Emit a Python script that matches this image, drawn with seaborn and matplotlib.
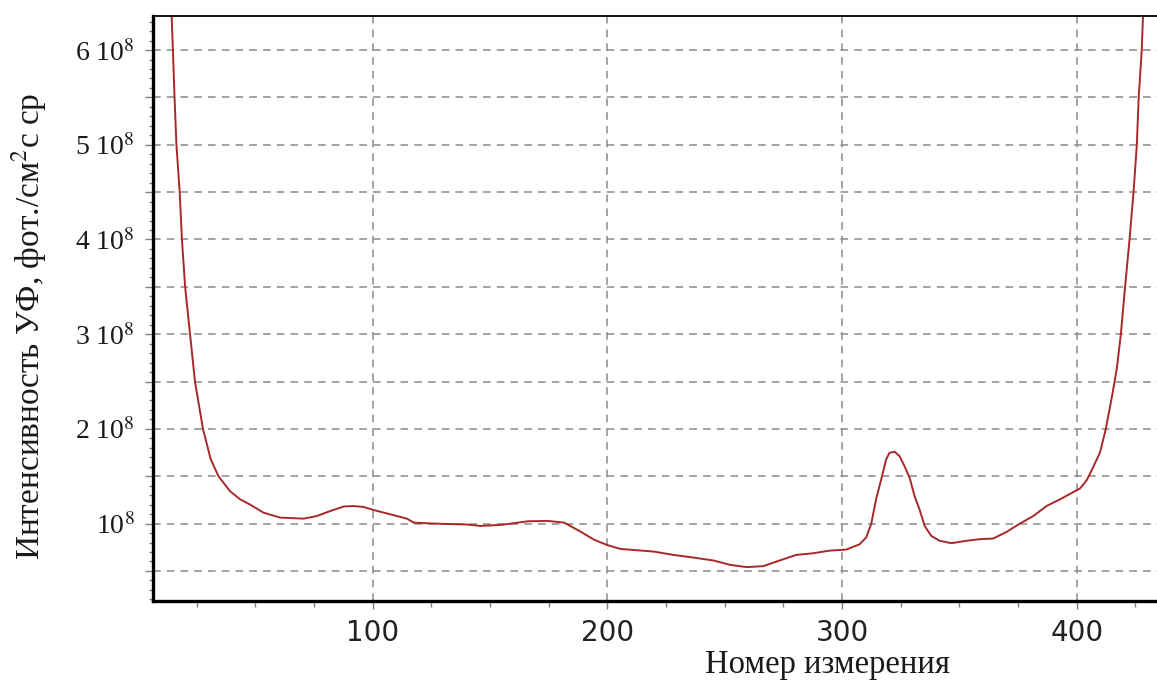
import numpy as np
import pandas as pd
import seaborn as sns
import matplotlib
matplotlib.use("Agg")
import matplotlib.pyplot as plt
from matplotlib.ticker import MultipleLocator, FuncFormatter

meas_no = [14, 14.9, 15.6, 16.4, 17.8, 18.75, 20.1, 22.2, 24.3, 27.7, 31, 34.3, 39.3, 43.6,
           47.8, 53.5, 60.6, 70.6, 76.3, 82, 87.6, 91.9, 96.2, 100.4, 107.5, 114.6, 117.5,
           126, 140, 146, 154.8, 166.1, 174.6, 181.6, 188.7, 194.4, 200, 205.6, 211.3, 219.8,
           228.2, 236.7, 245.2, 252.3, 259.3, 266.4, 273.4, 280.5, 287.6, 294.6, 301.7, 307.4,
           310.3, 312.4, 314.5, 316.7, 318.8, 320.2, 322.4, 324.5, 326.6, 328.8, 330.9, 333,
           335.2, 338, 341.6, 346.6, 353, 358.7, 364.4, 370.1, 375.8, 381.5, 387.2, 392.9,
           398.6, 401.4, 404.3, 407.1, 409.9, 412.3, 414.9, 417.1, 418.8, 420.6, 422.5, 424.2,
           425.6, 426.4, 427.7, 428.6]
intensity_e8 = [6.6, 6.0, 5.5, 5.0, 4.5, 4.0, 3.5, 3.0, 2.5, 2.0, 1.68, 1.5, 1.34, 1.255,
                1.2, 1.115, 1.063, 1.052, 1.08, 1.133, 1.18, 1.185, 1.175, 1.143, 1.098, 1.052,
                1.01, 1.0, 0.99, 0.975, 0.986, 1.024, 1.028, 1.01, 0.913, 0.829, 0.773, 0.732,
                0.721, 0.704, 0.669, 0.641, 0.61, 0.564, 0.54, 0.55, 0.61, 0.669, 0.686, 0.714,
                0.725, 0.78, 0.853, 0.993, 1.256, 1.467, 1.677, 1.747, 1.758, 1.712, 1.607,
                1.484, 1.291, 1.151, 0.975, 0.87, 0.818, 0.793, 0.818, 0.835, 0.842, 0.912,
                1.0, 1.08, 1.186, 1.256, 1.333, 1.37, 1.46, 1.6, 1.75, 1.99, 2.326, 2.64, 3.0,
                3.5, 4.0, 4.5, 5.0, 5.5, 6.0, 6.6]
x_ticks = [100, 200, 300, 400]
y_tick_multipliers = [1, 2, 3, 4, 5, 6]
x_label = "Номер измерения"
y_label = "Интенсивность УФ, фот./см$^2$с ср"

df = pd.DataFrame({"n": meas_no, "I": np.array(intensity_e8) * 1e8})

sns.set_theme(style="white")
plt.rcParams["font.family"] = ["Liberation Serif", "DejaVu Serif"]
plt.rcParams["mathtext.fontset"] = "stix"

fig = plt.figure(figsize=(11.57, 6.80), dpi=100)
ax = fig.add_axes([0.132, 0.116, 0.868, 0.8605])

sns.lineplot(data=df, x="n", y="I", ax=ax, color="#a8282a", linewidth=1.4,
             estimator=None, sort=False)

ax.set_xlim(6.3, 434.2)
ax.set_ylim(0.181e8, 6.36e8)

# ticks
ax.xaxis.set_major_locator(MultipleLocator(100))
ax.xaxis.set_minor_locator(MultipleLocator(25))
ax.yaxis.set_major_locator(MultipleLocator(0.5e8))
ax.yaxis.set_minor_locator(MultipleLocator(0.1e8))

def yfmt(v, pos):
    k = v / 1e8
    if abs(k - round(k)) > 1e-6 or round(k) not in y_tick_multipliers:
        return ""
    k = int(round(k))
    return "10$^{8}$" if k == 1 else f"{k} 10$^{8}$"

def xfmt(v, pos):
    return f"{int(round(v))}" if int(round(v)) in x_ticks else ""

ax.yaxis.set_major_formatter(FuncFormatter(yfmt))
ax.xaxis.set_major_formatter(FuncFormatter(xfmt))

ax.tick_params(axis="y", which="major", direction="out", length=6, width=1.0,
               color="#808080", pad=7, labelsize=20, labelcolor="#1a1a1a", left=True)
ax.tick_params(axis="y", which="minor", direction="out", length=3, width=1.0,
               color="#808080", left=True)
ax.tick_params(axis="x", which="major", direction="out", length=6, width=1.0,
               color="#808080", pad=7, labelsize=20, labelcolor="#222222", bottom=True)
ax.tick_params(axis="x", which="minor", direction="out", length=4, width=1.0,
               color="#808080", bottom=True)
for lab in ax.get_xticklabels():
    lab.set_fontfamily(["DejaVu Sans"])

ax.grid(True, which="major", axis="both", color="#8a8a8a", linestyle=(0, (5, 4)),
        linewidth=1.1)

for side in ["left", "bottom"]:
    ax.spines[side].set_linewidth(2.4)
    ax.spines[side].set_color("black")
ax.spines["top"].set_linewidth(1.3)
ax.spines["top"].set_color("black")
ax.spines["right"].set_visible(False)

ax.set_xlabel(x_label, fontsize=23.5, color="#1a1a1a")
ax.xaxis.set_label_coords(0.672, -0.083)
ax.set_ylabel(y_label, fontsize=24, color="#1a1a1a")
ax.yaxis.set_label_coords(-0.103, 0.47)

fig.savefig("out.png", dpi=100)
